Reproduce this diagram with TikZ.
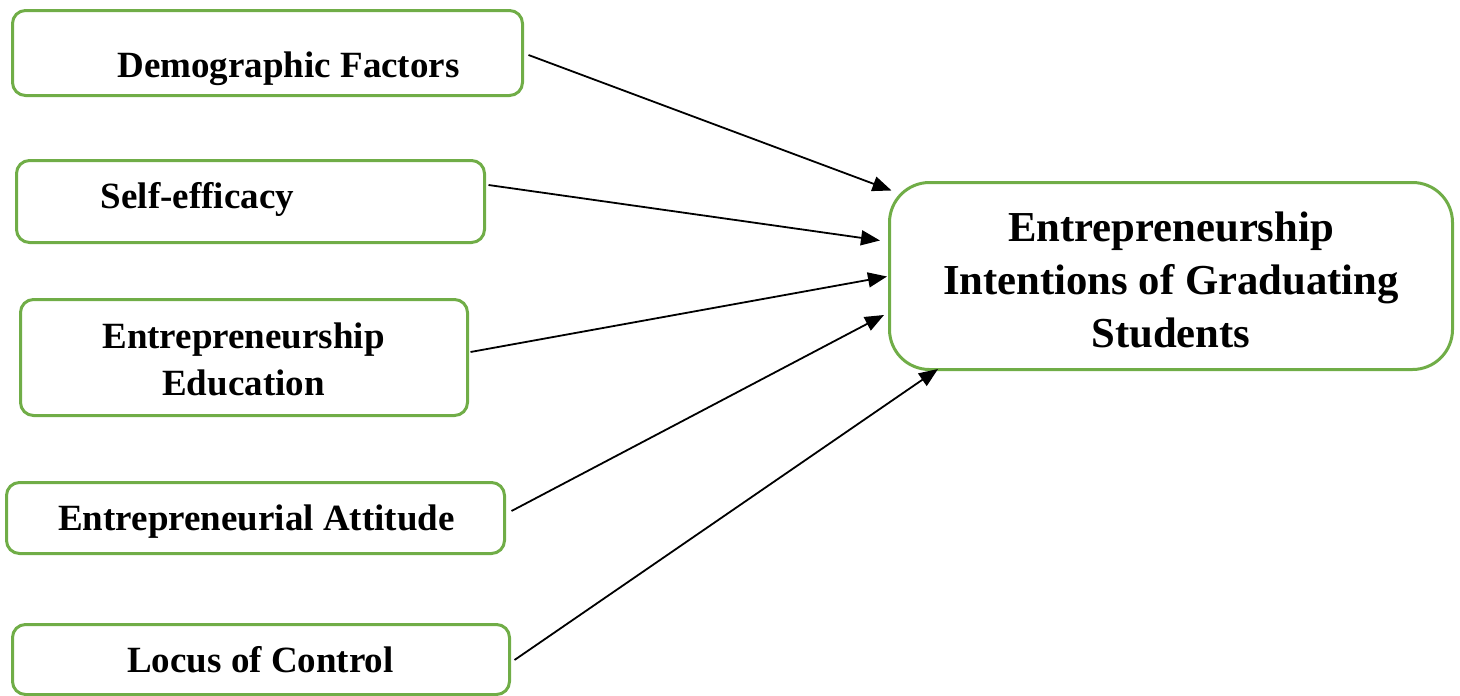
\documentclass[tikz,border=0pt]{standalone}
\usepackage{fontspec}
\setmainfont{Liberation Serif}
\usetikzlibrary{arrows.meta,calc}
\definecolor{boxgreen}{HTML}{70AD47}
\begin{document}
\begin{tikzpicture}[x=1pt,y=-1pt,
  factor/.style={draw=boxgreen,line width=3pt,rounded corners=13pt,inner sep=0pt},
  lbl/.style={font=\bfseries\fontsize{37}{47}\selectfont,anchor=base,align=center,inner sep=0pt},
  biglbl/.style={font=\bfseries\fontsize{42.7}{53}\selectfont,anchor=base,align=center,inner sep=0pt},
  link/.style={-{Triangle[length=19pt,width=15pt]},line width=1.8pt}]
\useasboundingbox (0,0) rectangle (1460,696);

% input factors
\node[factor,minimum width=510pt,minimum height=85pt] (demo) at (267.5,53) {};
\node[factor,minimum width=468pt,minimum height=82pt] (self) at (250.5,201.5) {};
\node[factor,minimum width=447pt,minimum height=116pt] (edu) at (244,357.5) {};
\node[factor,minimum width=498pt,minimum height=71pt] (att) at (255.5,518) {};
\node[factor,minimum width=497pt,minimum height=70pt] (loc) at (261,659.5) {};

% outcome
\node[factor,rounded corners=40pt,minimum width=563pt,minimum height=187pt] (goal) at (1171,276) {};

% labels (base anchor sits on the last line of a multi-line label)
\node[lbl] (demoT) at (288.5,77) {Demographic Factors};
\node[lbl] (selfT) at (197.5,208) {Self-efficacy};
\node[lbl] (eduT) at (243.5,395) {Entrepreneurship\\Education};
\node[lbl] (attT) at (256.5,530) {Entrepreneurial Attitude};
\node[lbl] (locT) at (260.5,672) {Locus of Control};
\node[biglbl] (goalT) at (1171,347) {Entrepreneurship\\Intentions of Graduating\\Students};

% influence arrows
\draw[link] ($(demo.east)+(4.5,2)$) -- ($(goal.north west)+(3.5,9.5)$);
\draw[link] ($(self.east)+(2.5,-16.5)$) -- ($(goal.west)+(-8,-35.5)$);
\draw[link] ($(edu.east)+(1.5,-5.5)$) -- ($(goal.west)+(-1,0.5)$);
\draw[link] ($(att.east)+(5.5,-7)$) -- ($(goal.west)+(-4,39)$);
\draw[link] ($(loc.east)+(3.5,0.5)$) -- ($(goal.south west)+(50,-2)$);
\end{tikzpicture}
\end{document}
